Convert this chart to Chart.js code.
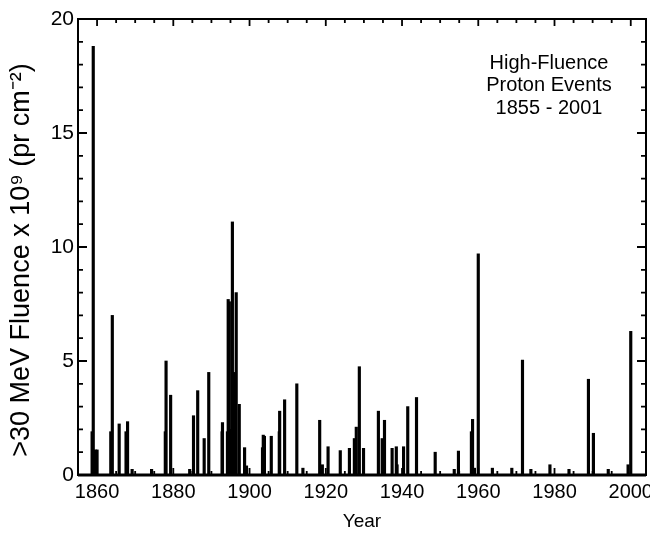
<!DOCTYPE html>
<html>
<head>
<meta charset="utf-8">
<script src="https://cdn.jsdelivr.net/npm/chart.js@4.4.1/dist/chart.umd.min.js"></script>
<style>
  html, body { margin: 0; padding: 0; background: #fff; }
  #wrap { width: 650px; height: 535px; position: relative; }
</style>
</head>
<body>
<div id="wrap"><canvas id="fluenceChart"></canvas></div>
<script>
// event dates (decimal year) and >30 MeV fluence (x 10^9 pr cm^-2)
const eventYears = [
    1858.7, 1859.0, 1859.6, 1860.0, 1863.6, 1864.0, 1865.8, 1867.6, 1868.0, 1869.2,
    1874.3, 1877.9, 1878.1, 1879.3, 1884.3, 1885.3, 1886.4, 1888.1, 1889.3, 1892.8,
    1892.9, 1894.2, 1894.4, 1894.7, 1895.0, 1895.5, 1896.1, 1896.5, 1897.3, 1898.7,
    1899.2, 1903.4, 1903.6, 1903.9, 1905.7, 1907.8, 1907.9, 1909.2, 1912.4, 1914.0,
    1918.4, 1919.1, 1920.6, 1923.8, 1926.2, 1927.5, 1928.0, 1928.8, 1929.9, 1933.8,
    1934.8, 1935.4, 1937.4, 1938.5, 1938.7, 1940.4, 1941.5, 1943.8, 1948.7, 1953.7,
    1954.8, 1958.2, 1958.5, 1959.0, 1960.0, 1963.7, 1968.8, 1971.6, 1973.8, 1978.8,
    1983.8, 1988.9, 1990.2, 1994.1, 1999.3, 2000.0
];
const fluence = [
    1.9, 18.8, 1.1, 1.1, 1.9, 7.0, 2.24, 1.9, 2.34, 0.25,
    0.25, 1.9, 5.0, 3.5, 0.25, 2.6, 3.7, 1.6, 4.5, 1.9,
    2.3, 1.9, 7.7, 7.6, 2.0, 11.1, 4.5, 8.0, 3.1, 1.2,
    0.4, 1.2, 1.75, 1.7, 1.7, 1.9, 2.8, 3.3, 4.0, 0.3,
    2.4, 0.45, 1.24, 1.07, 1.17, 1.6, 2.1, 4.75, 1.17, 2.8,
    1.6, 2.4, 1.17, 1.24, 0.45, 1.24, 3.0, 3.4, 1.0, 0.25,
    1.05, 1.9, 2.44, 0.3, 9.7, 0.3, 0.3, 5.04, 0.25, 0.45,
    0.25, 4.2, 1.83, 0.25, 0.45, 6.3
];

// axis labels and the note in the upper right
const yearTicks = [1860, 1880, 1900, 1920, 1940, 1960, 1980, 2000];
const fluenceTicks = [0, 5, 10, 15, 20];
const noteLines = ['High-Fluence', 'Proton Events', '1855 - 2001'];
const yTitle = '>30 MeV Fluence x 10⁹ (pr cm⁻²)';

const FONT = "'Liberation Sans', Arial, sans-serif";

// box around the plot, ticks pointing inward on all four sides, y title and note
const frameTicks = {
    id: 'frameTicks',
    afterDraw(chart) {
        const ctx = chart.ctx;
        const a = chart.chartArea;
        const xs = chart.scales.x;
        const ys = chart.scales.y;
        ctx.save();
        ctx.strokeStyle = '#000';
        ctx.lineWidth = 2;
        ctx.strokeRect(a.left, a.top, a.right - a.left, a.bottom - a.top);

        ctx.lineWidth = 1.8;
        ctx.beginPath();
        for (let yr = 1860; yr <= 2000; yr += 5) {
            const px = xs.getPixelForValue(yr);
            const len = (yr % 20 === 0) ? 7 : 4;
            ctx.moveTo(px, a.bottom); ctx.lineTo(px, a.bottom - len);
            ctx.moveTo(px, a.top); ctx.lineTo(px, a.top + len);
        }
        for (let v = 1; v < 20; v++) {
            const py = ys.getPixelForValue(v);
            const len = (v % 5 === 0) ? 9 : 5;
            ctx.moveTo(a.left, py); ctx.lineTo(a.left + len, py);
            ctx.moveTo(a.right, py); ctx.lineTo(a.right - len, py);
        }
        ctx.stroke();

        // baseline is heavier in the figure
        ctx.lineWidth = 3;
        ctx.beginPath();
        ctx.moveTo(a.left, a.bottom);
        ctx.lineTo(a.right, a.bottom);
        ctx.stroke();

        ctx.fillStyle = '#000';
        ctx.font = '20px ' + FONT;
        ctx.textAlign = 'center';
        ctx.textBaseline = 'middle';
        noteLines.forEach((t, i) => {
            ctx.fillText(t, 549, 63 + i * 22.5);
        });

        // rotated y title, sits a bit below the plot centre in the figure
        ctx.translate(22, 260);
        ctx.rotate(-Math.PI / 2);
        ctx.font = '27px ' + FONT;
        ctx.fillText(yTitle, 0, 0);
        ctx.restore();
    }
};

const points = eventYears.map((yr, i) => ({ x: yr, y: fluence[i] }));

new Chart(document.getElementById('fluenceChart'), {
    type: 'bar',
    data: {
        datasets: [{
            data: points,
            backgroundColor: '#000',
            borderWidth: 0,
            barThickness: 2.5
        }]
    },
    options: {
        responsive: true,
        maintainAspectRatio: false,
        animation: false,
        layout: { padding: { top: 19, right: 4, bottom: 0, left: 0 } },
        plugins: {
            legend: { display: false },
            tooltip: { enabled: false }
        },
        scales: {
            x: {
                type: 'linear',
                min: 1855,
                max: 2004,
                offset: false,
                grid: { display: false, drawTicks: false, offset: false },
                border: { display: false },
                afterBuildTicks: scale => {
                    scale.ticks = yearTicks.map(v => ({ value: v }));
                },
                afterFit: scale => {
                    scale.height = 60;
                    scale.paddingLeft = 0;
                    scale.paddingRight = 0;
                },
                ticks: {
                    color: '#000',
                    padding: 5,
                    maxRotation: 0,
                    autoSkip: false,
                    font: { family: FONT, size: 20 },
                    callback: v => String(v)
                },
                title: {
                    display: true,
                    text: 'Year',
                    color: '#000',
                    padding: { top: 0, bottom: 2 },
                    font: { family: FONT, size: 19 }
                }
            },
            y: {
                min: 0,
                max: 20,
                grid: { display: false, drawTicks: false },
                border: { display: false },
                afterBuildTicks: scale => {
                    scale.ticks = fluenceTicks.map(v => ({ value: v }));
                },
                afterFit: scale => {
                    scale.width = 78;
                    scale.paddingTop = 0;
                    scale.paddingBottom = 0;
                },
                ticks: {
                    color: '#000',
                    padding: 4,
                    font: { family: FONT, size: 21 }
                }
            }
        }
    },
    plugins: [frameTicks]
});
</script>
</body>
</html>
